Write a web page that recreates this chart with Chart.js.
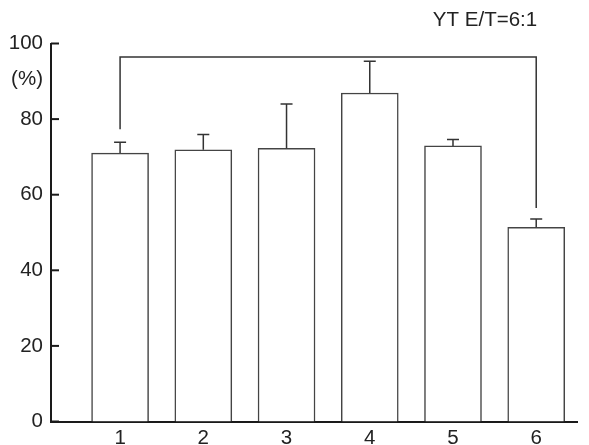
<!DOCTYPE html>
<html>
<head>
<meta charset="utf-8">
<script src="https://cdn.jsdelivr.net/npm/chart.js@4"></script>
<style>
  html, body { margin: 0; padding: 0; background: #fff; }
  #wrap { width: 589px; height: 445px; }
</style>
</head>
<body>
<div id="wrap"><canvas id="barChart" width="589" height="445"></canvas></div>
<script>
// Data
const categories = ['1', '2', '3', '4', '5', '6'];
const means = [71.0, 71.9, 72.3, 86.9, 72.9, 51.4];
const errors = [2.9, 4.0, 11.7, 8.4, 1.7, 2.2];
const yTicks = [0, 20, 40, 60, 80, 100];
// bracket between group 1 and group 6: [left end, top level, right end]
const bracketGroups = [1, 6];
const bracketLevels = [77.3, 96.4, 56.5];
const titleText = 'YT E/T=6:1';
const unitText = '(%)';

const FONT = '"Liberation Sans", Arial, sans-serif';
const FSIZE = 20.5;
const INK = '#222';

// Error bars, bracket, inward y ticks, unit label and title
const extrasPlugin = {
    id: 'extras',
    afterDraw(chart) {
        const ctx = chart.ctx;
        const x = chart.scales.x;
        const y = chart.scales.y;
        ctx.save();

        // error bars (upper only)
        ctx.strokeStyle = '#333';
        ctx.lineWidth = 1.5;
        means.forEach((m, i) => {
            const px = x.getPixelForValue(i + 1);
            const top = y.getPixelForValue(m + errors[i]);
            ctx.beginPath();
            ctx.moveTo(px, y.getPixelForValue(m));
            ctx.lineTo(px, top);
            ctx.moveTo(px - 6, top);
            ctx.lineTo(px + 6, top);
            ctx.stroke();
        });

        // significance bracket
        const bx1 = x.getPixelForValue(bracketGroups[0]);
        const bx2 = x.getPixelForValue(bracketGroups[1]);
        ctx.beginPath();
        ctx.moveTo(bx1, y.getPixelForValue(bracketLevels[0]));
        ctx.lineTo(bx1, y.getPixelForValue(bracketLevels[1]));
        ctx.lineTo(bx2, y.getPixelForValue(bracketLevels[1]));
        ctx.lineTo(bx2, y.getPixelForValue(bracketLevels[2]));
        ctx.stroke();

        // inward tick marks on the y axis
        ctx.strokeStyle = '#1a1a1a';
        ctx.lineWidth = 2;
        yTicks.forEach(v => {
            const py = y.getPixelForValue(v);
            ctx.beginPath();
            ctx.moveTo(x.left, py);
            ctx.lineTo(x.left + 8, py);
            ctx.stroke();
        });

        // unit label
        ctx.fillStyle = INK;
        ctx.font = FSIZE + 'px ' + FONT;
        ctx.textAlign = 'right';
        ctx.textBaseline = 'middle';
        ctx.fillText(unitText, 43, y.getPixelForValue(90.6));

        // title
        ctx.textAlign = 'center';
        ctx.fillText(titleText, 485, 20);
        ctx.restore();
    }
};

const ctx = document.getElementById('barChart').getContext('2d');
const barChart = new Chart(ctx, {
    type: 'bar',
    data: {
        datasets: [{
            data: means.map((m, i) => ({ x: i + 1, y: m })),
            backgroundColor: '#ffffff',
            borderColor: '#444',
            borderWidth: 1.5,
            borderSkipped: 'bottom',
            barThickness: 57
        }]
    },
    options: {
        responsive: false,
        animation: false,
        events: [],
        layout: {
            padding: { top: 43.5, right: 12, left: 0, bottom: 0 }
        },
        plugins: {
            legend: { display: false },
            tooltip: { enabled: false }
        },
        scales: {
            x: {
                type: 'linear',
                offset: false,
                min: 0.17,
                max: 6.49,
                afterBuildTicks: s => { s.ticks = categories.map((c, i) => ({ value: i + 1 })); },
                afterFit: s => { s.height = 23.5; },
                grid: { display: false, drawTicks: false },
                border: { display: true, color: '#1a1a1a', width: 2 },
                ticks: {
                    padding: 4.5,
                    color: INK,
                    font: { family: FONT, size: FSIZE },
                    maxRotation: 0,
                    callback: v => categories[v - 1]
                }
            },
            y: {
                min: 0,
                max: 100,
                afterBuildTicks: s => { s.ticks = yTicks.map(v => ({ value: v })); },
                afterFit: s => { s.width = 51; },
                grid: { display: false, drawTicks: false },
                border: { display: true, color: '#1a1a1a', width: 2 },
                ticks: {
                    padding: 8,
                    color: INK,
                    font: { family: FONT, size: FSIZE }
                }
            }
        }
    },
    plugins: [extrasPlugin]
});
</script>
</body>
</html>
